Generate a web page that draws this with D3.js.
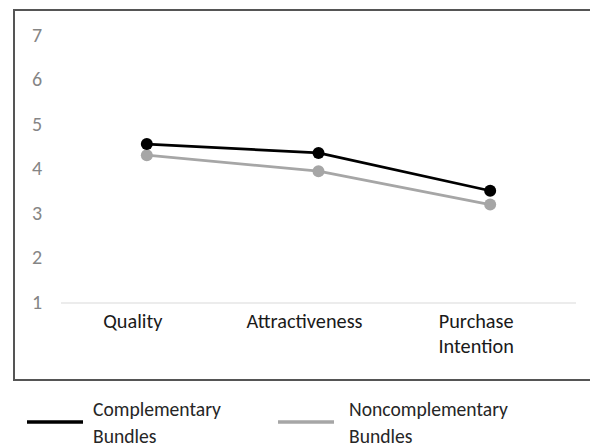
<!DOCTYPE html>
<html>
<head>
<meta charset="utf-8">
<script src="https://cdn.jsdelivr.net/npm/d3@7"></script>
<style>
  body { margin: 0; background: #fff; }
  svg text { font-family: Carlito, Calibri, "Open Sans", sans-serif; }
</style>
</head>
<body>
<svg id="chart" width="590" height="448"></svg>
<script>
// ----------------------
// data
// ----------------------
const categories = ["Quality", "Attractiveness", "Purchase Intention"];
const complementary = [4.55, 4.35, 3.50];
const noncomplementary = [4.30, 3.94, 3.19];
const yTicks = [1, 2, 3, 4, 5, 6, 7];

const series = [
    { name: ["Complementary", "Bundles"], values: complementary, color: "#000000" },
    { name: ["Noncomplementary", "Bundles"], values: noncomplementary, color: "#a6a6a6" }
];

// ----------------------
// layout
// ----------------------
const svg = d3.select("#chart");
const plot = { left: 61, right: 576, top: 35, bottom: 302 };

// frame around the chart area (its right edge is outside the picture)
svg.append("rect")
    .attr("x", 14)
    .attr("y", 10)
    .attr("width", 600)
    .attr("height", 370)
    .attr("fill", "none")
    .attr("stroke", "#555")
    .attr("stroke-width", 2);

const x = d3.scaleBand().domain(categories).range([plot.left, plot.right]);
const y = d3.scaleLinear().domain([1, 7]).range([plot.bottom, plot.top]);

// y tick labels
svg.append("g")
    .selectAll("text")
    .data(yTicks)
    .join("text")
    .attr("x", 37)
    .attr("y", d => y(d))
    .attr("dy", "0.34em")
    .attr("text-anchor", "middle")
    .attr("fill", "#858585")
    .attr("font-size", 20)
    .text(d => d);

// baseline
svg.append("line")
    .attr("x1", plot.left)
    .attr("x2", plot.right)
    .attr("y1", y(1) + 1)
    .attr("y2", y(1) + 1)
    .attr("stroke", "#d9d9d9")
    .attr("stroke-width", 1);

// category labels, wrapped on spaces
const catG = svg.append("g");
categories.forEach(c => {
    const cx = x(c) + x.bandwidth() / 2 - 14;
    const t = catG.append("text")
        .attr("x", cx)
        .attr("y", 328)
        .attr("text-anchor", "middle")
        .attr("fill", "#1a1a1a")
        .attr("font-size", 20.3);
    c.split(" ").forEach((w, i) => {
        t.append("tspan")
            .attr("x", cx)
            .attr("dy", i === 0 ? 0 : 25)
            .text(w);
    });
});

// lines + markers
const line = d3.line()
    .x((d, i) => x(categories[i]) + x.bandwidth() / 2)
    .y(d => y(d));

series.slice().reverse().forEach(s => {
    svg.append("path")
        .datum(s.values)
        .attr("fill", "none")
        .attr("stroke", s.color)
        .attr("stroke-width", 2.8)
        .attr("d", line);

    svg.append("g")
        .selectAll("circle")
        .data(s.values)
        .join("circle")
        .attr("cx", (d, i) => x(categories[i]) + x.bandwidth() / 2)
        .attr("cy", d => y(d))
        .attr("r", 6)
        .attr("fill", s.color);
});

// ----------------------
// legend
// ----------------------
const legendX = [27, 278];
const legendTextX = [93, 349];
series.forEach((s, i) => {
    const g = svg.append("g").attr("transform", `translate(${legendX[i]},422)`);
    g.append("line")
        .attr("x1", 0).attr("x2", 56)
        .attr("y1", 0).attr("y2", 0)
        .attr("stroke", s.color)
        .attr("stroke-width", 3.5);
    const tx = legendTextX[i] - legendX[i];
    const t = g.append("text")
        .attr("x", tx)
        .attr("y", -6)
        .attr("fill", "#262626")
        .attr("font-size", 19.6);
    s.name.forEach((n, j) => {
        t.append("tspan")
            .attr("x", tx)
            .attr("dy", j === 0 ? 0 : 27)
            .text(n);
    });
});
</script>
</body>
</html>
